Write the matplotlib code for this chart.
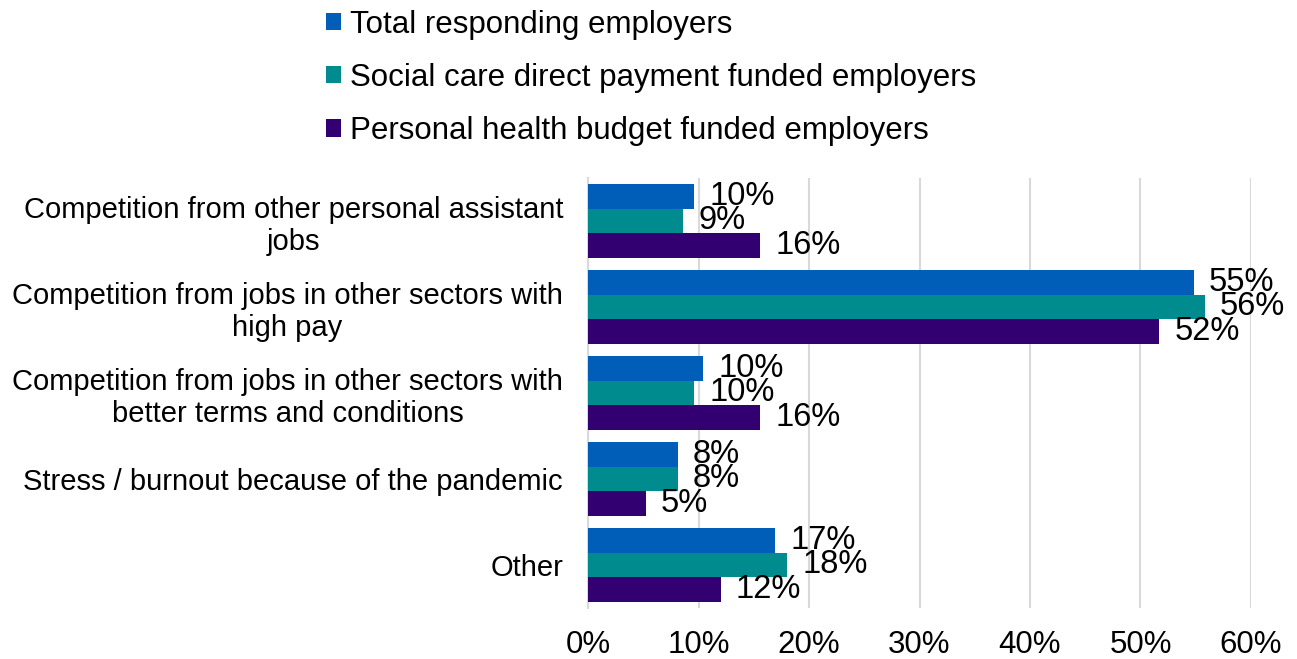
import numpy as np
import matplotlib.pyplot as plt
from matplotlib.patches import Patch

plt.rcParams['font.family'] = ['Liberation Sans', 'DejaVu Sans']

categories = [
    "Competition from other personal assistant\njobs",
    "Competition from jobs in other sectors with\nhigh pay",
    "Competition from jobs in other sectors with\nbetter terms and conditions",
    "Stress / burnout because of the pandemic",
    "Other",
]
series_names = [
    "Total responding employers",
    "Social care direct payment funded employers",
    "Personal health budget funded employers",
]
total_pct = [9.6, 54.8, 10.4, 8.1, 16.9]
direct_payment_pct = [8.6, 55.8, 9.6, 8.1, 18.0]
health_budget_pct = [15.6, 51.7, 15.6, 5.2, 12.0]
x_ticks = [0, 10, 20, 30, 40, 50, 60]

colors = ["#005EB8", "#008C8F", "#330072"]
series = [total_pct, direct_payment_pct, health_budget_pct]

fig = plt.figure(figsize=(12.97, 6.59), dpi=100)
ax = fig.add_axes([0.4534, 0.0774, 0.5111, 0.6525])

y = np.arange(len(categories))
h = 0.29
for i, (vals, col) in enumerate(zip(series, colors)):
    bars = ax.barh(y + (i - 1) * h, vals, height=h, color=col, zorder=3)
    ax.bar_label(bars, labels=[f"{v:.0f}%" for v in vals], padding=11,
                 fontsize=23.5, color="black")

ax.set_ylim(len(categories) - 0.5, -0.5)
ax.set_xlim(0, 60)
ax.set_xticks(x_ticks)
ax.set_xticklabels([f"{t}%" for t in x_ticks])
ax.set_yticks(y)
ax.set_yticklabels(categories, multialignment="center")
ax.tick_params(axis="x", length=0, pad=16, labelsize=22.5)
ax.tick_params(axis="y", length=0, pad=18, labelsize=21)

ax.grid(axis="x", color="#D9D9D9", linewidth=1.5, zorder=0)
for s in ["top", "right", "bottom"]:
    ax.spines[s].set_visible(False)
ax.spines["left"].set_color("#D9D9D9")
ax.spines["left"].set_linewidth(1.5)

handles = [Patch(facecolor=c) for c in colors]
fig.legend(handles, series_names, loc="upper left", bbox_to_anchor=(0.239, 1.009),
           frameon=False, fontsize=22.5, handlelength=0.48, handleheight=0.48,
           handletextpad=0.3, labelspacing=0.74, borderaxespad=0.1)

fig.savefig("out.png", dpi=100)
